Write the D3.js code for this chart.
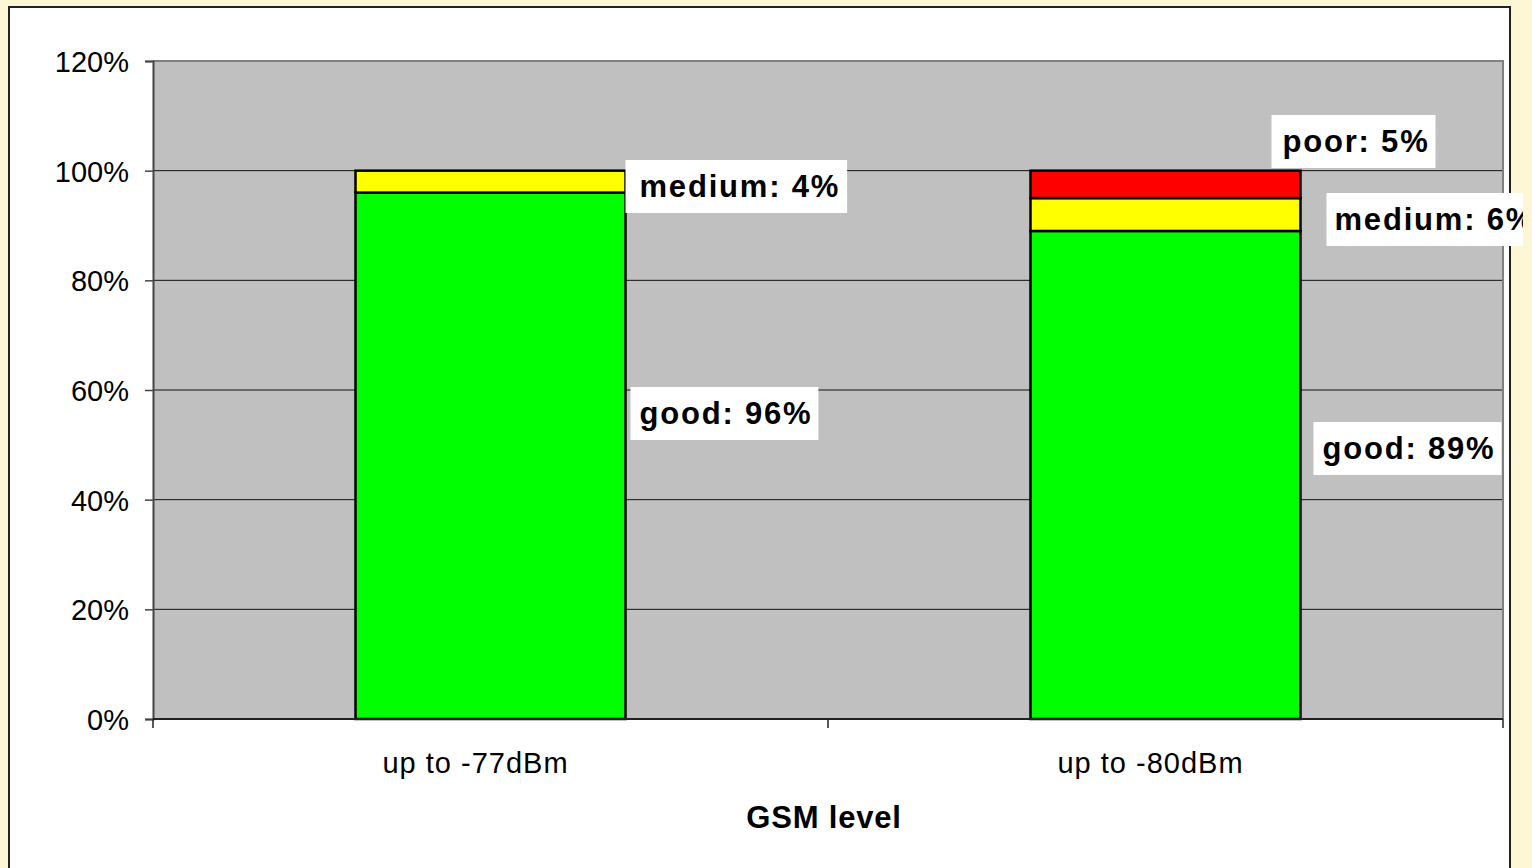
<!DOCTYPE html>
<html>
<head>
<meta charset="utf-8">
<script src="https://cdn.jsdelivr.net/npm/d3@7"></script>
<style>
  html, body { margin: 0; padding: 0; background: #FEF7D6; }
  svg { display: block; }
</style>
</head>
<body>
<svg id="chart" width="1532" height="868"></svg>
<script>
// GSM signal quality distribution per level threshold
const categories = ["up to -77dBm", "up to -80dBm"];
const seriesNames = ["good", "medium", "poor"];
const good = [96, 89];
const medium = [4, 6];
const poor = [0, 5];
const yTicks = [0, 20, 40, 60, 80, 100, 120];
const xTitle = "GSM level";

const colors = { good: "#00FF00", medium: "#FFFF00", poor: "#FF0000" };

// Data label placement: text offset from bar right edge, label centre, box padding
const labelLayout = [
  { cat: 0, s: "medium", dx: 14, cy: 186, padL: 14, padR: 7 },
  { cat: 0, s: "good",   dx: 14, cy: 413, padL: 9, padR: 6 },
  { cat: 1, s: "poor",   dx: -18, cy: 141, padL: 11, padR: 6 },
  { cat: 1, s: "medium", dx: 34, cy: 219, padL: 8, padR: 6 },
  { cat: 1, s: "good",   dx: 22, cy: 448, padL: 9, padR: 6 }
];

const svg = d3.select("#chart");
const W = 1532, H = 868;
const FONT = "Liberation Sans, Arial, sans-serif";

// chart frame
svg.append("rect").attr("x", 9).attr("y", 7).attr("width", 1501).attr("height", H)
  .attr("fill", "#ffffff").attr("stroke", "#222").attr("stroke-width", 2);

const plot = { left: 153, top: 61, right: 1503, bottom: 719 };

const x = d3.scaleBand().domain(categories).range([plot.left, plot.right]).paddingInner(0.6).paddingOuter(0.3);
const y = d3.scaleLinear().domain([0, 120]).range([plot.bottom, plot.top]);

// plot area background
svg.append("rect").attr("x", plot.left).attr("y", plot.top)
  .attr("width", plot.right - plot.left).attr("height", plot.bottom - plot.top)
  .attr("fill", "#C0C0C0");

// gridlines
svg.append("g").selectAll("line").data(yTicks.filter(t => t > 0 && t < 120)).join("line")
  .attr("x1", plot.left).attr("x2", plot.right)
  .attr("y1", d => y(d)).attr("y2", d => y(d))
  .attr("stroke", "#111").attr("stroke-width", 1);

// plot area border (top / right)
svg.append("path")
  .attr("d", `M${plot.left},${plot.top}H${plot.right}V${plot.bottom}`)
  .attr("fill", "none").attr("stroke", "#808080").attr("stroke-width", 2);

// stacked bars
const table = categories.map((c, i) => ({ cat: c, good: good[i], medium: medium[i], poor: poor[i] }));
const stacked = d3.stack().keys(seriesNames)(table);

svg.append("g").selectAll("g").data(stacked).join("g")
  .attr("fill", d => colors[d.key])
  .selectAll("rect").data(d => d.filter(p => p[1] - p[0] > 0)).join("rect")
  .attr("x", d => x(d.data.cat))
  .attr("width", x.bandwidth())
  .attr("y", d => y(d[1]))
  .attr("height", d => y(d[0]) - y(d[1]))
  .attr("stroke", "#000").attr("stroke-width", 2.5);

// y axis
const yAxis = d3.axisLeft(y).tickValues(yTicks).tickFormat(d => d + "%").tickSize(8).tickPadding(16);
const gy = svg.append("g").attr("transform", `translate(${plot.left},0)`).call(yAxis);
gy.select(".domain").attr("stroke", "#444").attr("stroke-width", 2);
gy.selectAll(".tick line").attr("stroke", "#444").attr("stroke-width", 1.5);
gy.selectAll("text").attr("font-family", FONT)
  .attr("font-size", 29).attr("fill", "#000").attr("dy", "0.36em");

// x axis
const gx = svg.append("g").attr("transform", `translate(0,${plot.bottom})`);
gx.append("line").attr("x1", plot.left).attr("x2", plot.right).attr("y1", 0).attr("y2", 0)
  .attr("stroke", "#222").attr("stroke-width", 2);
const bounds = [plot.left, (plot.left + plot.right) / 2, plot.right];
gx.selectAll("line.tk").data(bounds).join("line").attr("class", "tk")
  .attr("x1", d => d).attr("x2", d => d).attr("y1", 0).attr("y2", 9)
  .attr("stroke", "#222").attr("stroke-width", 1.5);
gx.selectAll("text").data(categories).join("text")
  .attr("x", d => x(d) + x.bandwidth() / 2 - 15)
  .attr("y", 54)
  .attr("text-anchor", "middle")
  .attr("font-family", FONT)
  .attr("font-size", 29).attr("letter-spacing", 1).attr("fill", "#000")
  .text(d => d);

svg.append("text").attr("x", 824).attr("y", 828)
  .attr("text-anchor", "middle")
  .attr("font-family", FONT)
  .attr("font-size", 31).attr("letter-spacing", 0.8).attr("font-weight", "bold").attr("fill", "#000")
  .text(xTitle);

// data labels with white boxes
svg.append("clipPath").attr("id", "labelClip")
  .append("rect").attr("x", 0).attr("y", 0).attr("width", 1523).attr("height", H);

const vals = { good, medium, poor };
const lg = svg.append("g").attr("clip-path", "url(#labelClip)");
labelLayout.forEach(l => {
  const txt = `${l.s}: ${vals[l.s][l.cat]}%`;
  const tx = x(categories[l.cat]) + x.bandwidth() + l.dx;
  const g = lg.append("g");
  const t = g.append("text")
    .attr("x", tx).attr("y", l.cy)
    .attr("dy", "0.35em")
    .attr("font-family", FONT)
    .attr("font-size", 31).attr("letter-spacing", 1.8).attr("font-weight", "bold").attr("fill", "#000")
    .text(txt);
  const bb = t.node().getBBox();
  g.insert("rect", "text")
    .attr("x", tx - l.padL).attr("y", l.cy - 26)
    .attr("width", bb.width + l.padL + l.padR).attr("height", 53)
    .attr("fill", "#fff");
});
</script>
</body>
</html>
